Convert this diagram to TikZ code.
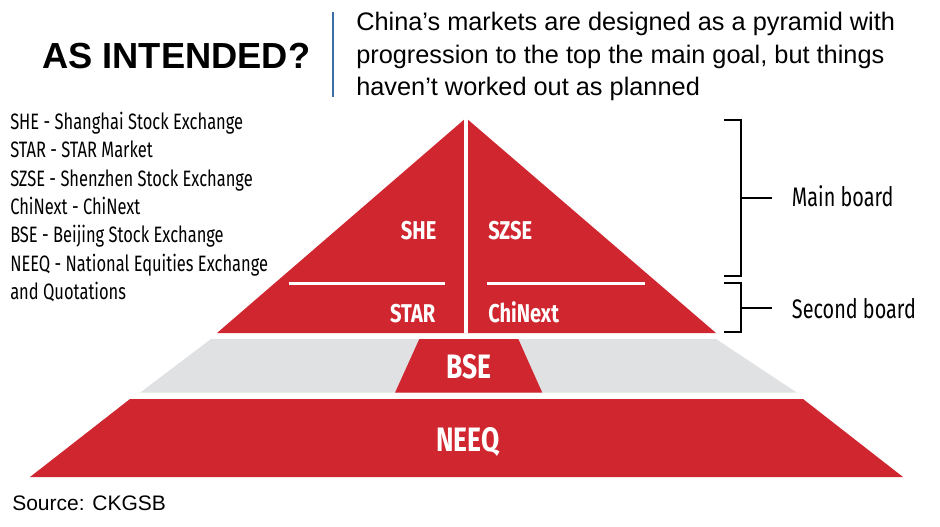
\documentclass[tikz,border=0pt]{standalone}
\usepackage{fontspec}
\setmainfont{Liberation Sans}
\newfontfamily\condfont{Fira Sans}[FakeStretch=0.74]
\newfontfamily\condboldfont{Fira Sans}[FakeStretch=0.78]
\usepackage{xcolor}
\usepackage{tikz}
\usetikzlibrary{positioning}
\usetikzlibrary{calc}
\definecolor{pyramidred}{HTML}{D0262F}
\definecolor{shelfgray}{HTML}{E0E1E3}
\definecolor{ruleblue}{HTML}{3A6EA5}

\begin{document}
\begin{tikzpicture}[x=0.75pt, y=-0.75pt,
        tierlabel/.style={text=white, inner sep=0pt, font=\condboldfont\bfseries\fontsize{19.3}{22}\selectfont},
        biglabel/.style={tierlabel, font=\condboldfont\bfseries\fontsize{25.4}{28}\selectfont},
        boardlabel/.style={inner sep=0pt, anchor=base west, font=\condfont\fontsize{20.1}{24}\selectfont},
        bracketline/.style={line width=1.7pt, line cap=butt}]
    \useasboundingbox (0,0) rectangle (940,526);
    % heading
    \node[anchor=base west, inner sep=0pt, font=\bfseries\fontsize{27.2}{30}\selectfont] (title) at (42,68.3) {AS INTENDED?};
    \draw[ruleblue, line width=1.6pt] (332.7,11.7) coordinate (ruletop) -- (332.7,96.7) coordinate (rulebottom);
    \node[anchor=base west, inner sep=0pt, align=left, font=\fontsize{19}{24.4}\selectfont] (blurb) at (356,95.7)
        {China’s markets are designed as a pyramid with\\progression to the top the main goal, but things\\haven’t worked out as planned};
    % key to the abbreviations
    \node[anchor=base west, inner sep=0pt, align=left, font=\condfont\fontsize{16.7}{21.2}\selectfont] (legend) at (10,299.3)
        {SHE - Shanghai Stock Exchange\\STAR - STAR Market\\SZSE - Shenzhen Stock Exchange\\ChiNext - ChiNext\\BSE - Beijing Stock Exchange\\NEEQ - National Equities Exchange\\and Quotations};
    % top of the pyramid
    \fill[pyramidred] (217,333) -- (466,118) coordinate (apex) -- (716,333) -- cycle;
    \draw[white, line width=2.3pt] (apex) -- (466,333);
    \draw[white, line width=2.2pt] (288.6,283.7) -- (445,283.7);
    \draw[white, line width=2.2pt] (487,283.7) -- (645,283.7);
    \node[tierlabel, anchor=base east] (she) at (436.6,239.5) {SHE};
    \node[tierlabel, anchor=base west] (szse) at (488,239.5) {SZSE};
    \node[tierlabel, anchor=base east] (star) at (435.5,322.9) {STAR};
    \node[tierlabel, anchor=base west] (chinext) at (488,322.9) {ChiNext};
    % middle and bottom
    \fill[shelfgray] (211,339) -- (716,339) -- (797,392.7) -- (140,392.7) -- cycle;
    \fill[pyramidred] (419.3,339) -- (518.3,339) -- (542.3,392.7) -- (395,392.7) -- cycle;
    \node[biglabel, anchor=base] (bse) at (469,378.3) {BSE};
    \fill[pyramidred] (130,399) -- (803,399) -- (903,477) -- (30,477) -- cycle;
    \node[biglabel, anchor=base] (neeq) at (467.7,451) {NEEQ};
    % brackets
    \draw[bracketline] (724,120) -| (740.7,275.7) -- (724,275.7);
    \draw[bracketline] (740.7,198.3) coordinate (mainmid) -- ++(31,0);
    \node[boardlabel] (mainboard) at (791.7,206.7) {Main board};
    \draw[bracketline] (724,283.3) -| (740.7,331.7) -- (724,331.7);
    \draw[bracketline] (740.7,307.7) coordinate (secondmid) -- ++(31,0);
    \node[boardlabel] (secondboard) at (791.7,318) {Second board};
    \node[anchor=base west, inner sep=0pt, font=\fontsize{15.75}{18}\selectfont] (source) at (12,510.7) {Source: CKGSB};
\end{tikzpicture}
\end{document}
